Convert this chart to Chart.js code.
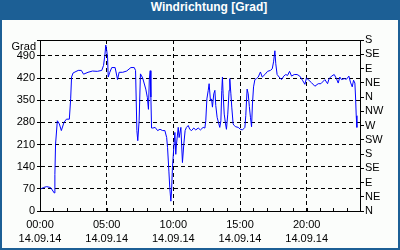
<!DOCTYPE html>
<html>
<head>
<meta charset="utf-8">
<script src="https://cdn.jsdelivr.net/npm/chart.js@4"></script>
<style>
    body { margin: 0; }
    #wrap { position: relative; width: 400px; height: 250px; background: #1c5f95; }
    #inner { position: absolute; left: 2px; top: 20px; width: 396px; height: 228px; background: #fbfdfb; }
    #title { position: absolute; left: 0; top: 0; width: 418px; height: 20px; line-height: 21px;
             text-align: center; color: #fff; font: bold 12px "Liberation Sans", sans-serif; }
    #chart { position: absolute; left: 0; top: 0; }
</style>
</head>
<body>
<div id="wrap">
    <div id="inner"></div>
    <div id="title">Windrichtung [Grad]</div>
    <canvas id="chart" width="400" height="250"></canvas>
</div>
<script>
// readings of 14.09.14, time of day -> direction in degrees
const times = [
    '00:00','00:15','00:30','00:48','01:04','01:07','01:10','01:18','01:27','01:36',
    '01:48','01:59','02:12','02:18','02:22','02:29','02:52','03:06','03:16','03:36',
    '03:56','04:18','04:38','04:46','04:52','04:56','05:00','05:04','05:07','05:14',
    '05:23','05:38','05:49','05:56','06:12','06:30','06:49','07:04','07:10','07:16',
    '07:20','07:26','07:32','07:42','07:56','08:03','08:08','08:12','08:16','08:19',
    '08:22','08:28','08:38','08:49','09:00','09:12','09:22','09:30','09:34','09:40',
    '09:44','09:49','09:52','09:56','10:02','10:07','10:11','10:14','10:22','10:26',
    '10:34','10:41','10:47','10:53','10:59','11:07','11:14','11:22','11:32','11:41',
    '11:52','12:02','12:14','12:22','12:26','12:31','12:37','12:41','12:47','12:52',
    '12:56','13:02','13:07','13:11','13:17','13:23','13:29','13:34','13:38','13:41',
    '13:44','13:49','13:55','13:59','14:05','14:11','14:14','14:19','14:23','14:29',
    '14:34','14:41','14:52','15:02','15:11','15:22','15:26','15:32','15:37','15:42',
    '15:47','15:52','15:56','16:01','16:07','16:14','16:22','16:32','16:40','16:52',
    '17:04','17:17','17:25','17:31','17:37','17:41','17:47','17:56','18:07','18:17',
    '18:26','18:34','18:43','18:52','19:04','19:17','19:29','19:41','19:52','19:59',
    '20:10','20:22','20:37','20:52','21:04','21:22','21:34','21:41','21:52','22:04',
    '22:14','22:22','22:29','22:37','22:49','22:59','23:10','23:17','23:25','23:31',
    '23:37','23:40','23:43','23:46'
];
const windDir = [
    68, 74, 77, 74, 57, 115, 211, 285, 275, 254,
    280, 290, 290, 354, 423, 436, 444, 444, 432, 438,
    442, 441, 444, 460, 492, 524, 508, 486, 423, 438,
    453, 453, 415, 438, 438, 442, 453, 453, 444, 254,
    222, 285, 433, 420, 385, 359, 321, 417, 443, 360,
    262, 262, 264, 254, 258, 254, 254, 232, 200, 126,
    73, 31, 63, 137, 200, 248, 179, 210, 264, 232,
    264, 153, 210, 254, 264, 270, 258, 254, 262, 256,
    262, 256, 264, 262, 285, 354, 381, 402, 349, 354,
    328, 370, 381, 333, 296, 280, 264, 285, 381, 423,
    370, 306, 275, 258, 306, 381, 418, 370, 328, 275,
    270, 266, 264, 258, 256, 264, 301, 385, 370, 330,
    296, 266, 338, 392, 415, 418, 423, 439, 423, 431,
    441, 444, 449, 471, 506, 465, 431, 423, 415, 426,
    431, 428, 441, 426, 431, 431, 426, 413, 400, 420,
    413, 405, 394, 402, 402, 415, 402, 418, 426, 431,
    418, 404, 423, 415, 418, 416, 426, 407, 392, 413,
    404, 360, 301, 264
];
const dateLabel = '14.09.14';
const compass = ['N', 'NE', 'E', 'SE', 'S', 'SW', 'W', 'NW', 'N', 'NE', 'E', 'SE', 'S'];

const FONT = { family: '"Liberation Sans", sans-serif', size: 11 };

function toHours(t) {
    const p = t.split(':');
    return parseInt(p[0], 10) + parseInt(p[1], 10) / 60;
}

const points = times.map((t, i) => ({ x: toHours(t), y: windDir[i] }));

// frame, inward hour ticks and the "Grad" caption
const framePlugin = {
    id: 'frame',
    afterDraw(chart) {
        const ctx = chart.ctx;
        const a = chart.chartArea;
        const xs = chart.scales.x;
        ctx.save();
        ctx.strokeStyle = '#000';
        ctx.lineWidth = 1;
        ctx.setLineDash([]);
        ctx.strokeRect(Math.round(a.left) + 0.5, Math.round(a.top) + 0.5,
            Math.round(a.right - a.left), Math.round(a.bottom - a.top));
        ctx.beginPath();
        xs.ticks.forEach(t => {
            const px = Math.round(xs.getPixelForValue(t.value)) + 0.5;
            ctx.moveTo(px, Math.round(a.bottom));
            ctx.lineTo(px, Math.round(a.bottom) - 3);
        });
        ctx.stroke();
        ctx.fillStyle = '#000';
        ctx.font = '11px "Liberation Sans", sans-serif';
        ctx.textAlign = 'right';
        ctx.textBaseline = 'middle';
        ctx.fillText('Grad', a.left - 4, a.top + 7);
        ctx.restore();
    }
};

new Chart(document.getElementById('chart'), {
    type: 'line',
    data: {
        datasets: [{
            data: points,
            borderColor: '#0000ff',
            borderWidth: 1,
            pointRadius: 0,
            tension: 0,
            fill: false
        }]
    },
    options: {
        responsive: false,
        animation: false,
        devicePixelRatio: 1,
        layout: { padding: { top: 40, left: 0, right: 0, bottom: 0 } },
        plugins: { legend: { display: false }, tooltip: { enabled: false } },
        scales: {
            x: {
                type: 'linear',
                min: 0,
                max: 24,
                afterFit: s => { s.height = 39; },
                border: { color: '#000', dash: [4, 3] },
                grid: {
                    color: c => (c.tick && c.tick.value % 5 === 0 && c.tick.value > 0 && c.tick.value < 24) ? '#000' : 'rgba(0,0,0,0)',
                    drawTicks: false
                },
                ticks: {
                    stepSize: 1,
                    autoSkip: false,
                    maxRotation: 0,
                    padding: 7,
                    color: '#000',
                    font: Object.assign({ lineHeight: 1.3 }, FONT),
                    callback: v => (v % 5 === 0 && v < 24) ? [String(v).padStart(2, '0') + ':00', dateLabel] : ''
                }
            },
            y: {
                position: 'left',
                min: 0,
                max: 540,
                afterFit: s => { s.width = 40; },
                border: { color: '#000', dash: [4, 3] },
                grid: {
                    color: c => (c.tick && c.tick.value > 0 && c.tick.value < 540) ? '#000' : 'rgba(0,0,0,0)',
                    tickColor: '#000',
                    tickBorderDash: [],
                    tickLength: 3
                },
                ticks: {
                    stepSize: 70,
                    autoSkip: false,
                    padding: 2,
                    color: '#000',
                    font: FONT,
                    callback: v => v === 540 ? '' : v
                }
            },
            y2: {
                position: 'right',
                min: 0,
                max: 540,
                afterFit: s => { s.width = 40; },
                border: { color: '#000' },
                grid: {
                    drawOnChartArea: false,
                    tickColor: '#000',
                    tickLength: 4
                },
                ticks: {
                    stepSize: 45,
                    autoSkip: false,
                    padding: 1,
                    color: '#000',
                    font: FONT,
                    callback: v => compass[Math.round(v / 45)]
                }
            }
        }
    },
    plugins: [framePlugin]
});
</script>
</body>
</html>
